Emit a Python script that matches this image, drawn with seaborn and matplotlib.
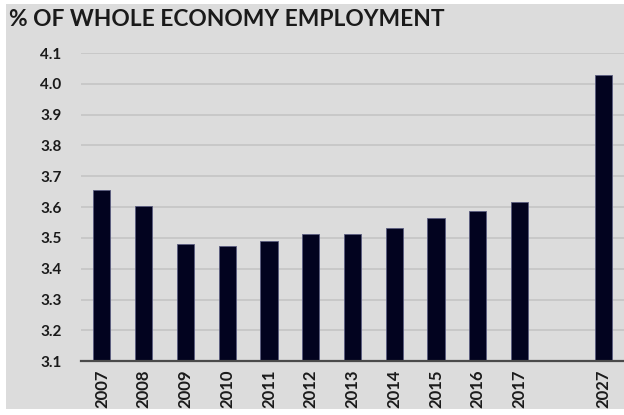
import matplotlib
matplotlib.use("Agg")
import matplotlib.pyplot as plt
from matplotlib import font_manager
from matplotlib.patches import Rectangle
from matplotlib.transforms import ScaledTranslation
import seaborn as sns
import pandas as pd

years = ["2007", "2008", "2009", "2010", "2011", "2012", "2013", "2014",
         "2015", "2016", "2017", "2027"]
values = [3.655, 3.603, 3.482, 3.474, 3.490, 3.513, 3.513, 3.531,
          3.565, 3.589, 3.616, 4.028]
order = years[:-1] + [" "] + years[-1:]
title = "% OF WHOLE ECONOMY EMPLOYMENT"
yticks = [3.1, 3.2, 3.3, 3.4, 3.5, 3.6, 3.7, 3.8, 3.9, 4.0, 4.1]

names = {f.name for f in font_manager.fontManager.ttflist}
narrow = "Liberation Sans Narrow" if "Liberation Sans Narrow" in names else "Lato"
main = "Lato" if "Lato" in names else "DejaVu Sans"

sns.set_theme(style="white")
plt.rcParams["font.family"] = [main, "DejaVu Sans"]

bg = "#dcdcdc"
fig = plt.figure(figsize=(6.24, 4.15), dpi=100, facecolor="white")
fig.patches.append(Rectangle((6/624, 6/415), 1 - 6/624, 1 - 10/415,
                             transform=fig.transFigure, facecolor=bg,
                             edgecolor="none", zorder=-10))
ax = fig.add_axes([81/624, 1 - 361.3/415, 1 - 81/624, (361.3 - 53)/415])
ax.set_facecolor("none")

df = pd.DataFrame({"year": years, "value": values})
sns.barplot(data=df, x="year", y="value", order=order, color="#02031f",
            width=0.41, saturation=1, edgecolor="#5a5c80", linewidth=0.6,
            ax=ax, zorder=3)

ax.set_ylim(3.1, 4.1)
ax.set_xlim(-0.5, len(order) - 0.5)
ax.set_yticks(yticks)
ax.set_yticklabels([f"{v:.1f}" for v in yticks], fontsize=11,
                   fontweight="bold", color="#1a1a1a", family=[main, "DejaVu Sans"])
ax.set_xticks(range(len(order)))
labels = ax.set_xticklabels(order, rotation=90, fontsize=12, fontweight="bold",
                            color="#1a1a1a", family=[narrow, "DejaVu Sans"])
labels[-1].set_transform(labels[-1].get_transform() +
                         ScaledTranslation(0, -6/100, fig.dpi_scale_trans))
ax.tick_params(axis="both", length=0)
ax.tick_params(axis="y", pad=14)
ax.tick_params(axis="x", pad=6)
ax.set_xlabel("")
ax.set_ylabel("")
for y in yticks[1:]:
    ax.axhline(y, color="#c4c4c4", linewidth=1.2, zorder=1)
for s in ["top", "right", "left"]:
    ax.spines[s].set_visible(False)
ax.spines["bottom"].set_color("#4a4a4a")
ax.spines["bottom"].set_linewidth(1.6)
ax.spines["bottom"].set_zorder(4)

fig.text(9/624, 1 - 20/415, title, fontsize=16.4, fontweight="bold",
         color="#1a1a1a", ha="left", va="center", family=[main, "DejaVu Sans"])

fig.savefig("out.png", dpi=100, facecolor="white")
